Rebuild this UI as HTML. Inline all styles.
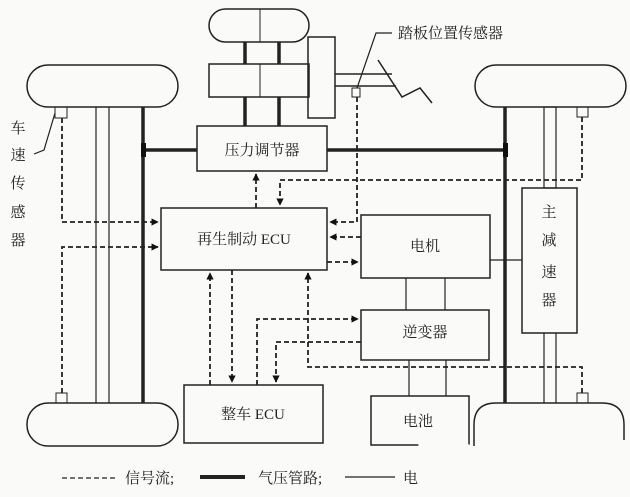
<!DOCTYPE html>
<html><head><meta charset="utf-8"><style>
html,body{margin:0;padding:0;background:#fafaf8;}
svg{display:block;}
text{font-family:"Liberation Serif","Noto Serif CJK SC","Noto Sans CJK SC",serif;fill:#222;font-size:15px;}
</style></head><body>
<svg width="630" height="497" viewBox="0 0 630 497" xmlns="http://www.w3.org/2000/svg">
<defs>
<marker id="a" viewBox="0 0 10 10" refX="9" refY="5" markerWidth="4" markerHeight="4" orient="auto"><path d="M0,0 L10,5 L0,10z" fill="#111"/></marker>
</defs>
<g fill="none" stroke="#222" stroke-width="1.5">
<!-- wheels -->
<rect x="209" y="9" width="100" height="33" rx="16.5"/>
<line x1="260" y1="9" x2="260" y2="42" stroke-width="1"/>
<rect x="27" y="65" width="151" height="42" rx="21"/>
<rect x="475" y="65" width="151" height="42" rx="21"/>
<rect x="27" y="403" width="151" height="43" rx="21"/>
<path d="M474,446 L474,425 Q474,403 496,403 L602,403 Q624,403 624,425 L624,440"/>
<!-- module -->
<rect x="209" y="64" width="100" height="33"/>
<line x1="260" y1="64" x2="260" y2="97" stroke-width="1"/>
<rect x="308" y="37" width="27" height="81"/>
<line x1="335" y1="74" x2="392" y2="74"/>
<line x1="335" y1="86" x2="396" y2="86"/>
<polyline points="378,60 402,97 420,88 432,103"/>
<polyline points="392,33 376,33 357,88" stroke-width="1.2"/>
<rect x="352" y="88" width="8" height="9" stroke-width="1"/>
<!-- thick air lines -->
<g stroke-width="3.5">
<line x1="245" y1="42" x2="245" y2="64"/><line x1="279" y1="42" x2="279" y2="64"/>
<line x1="245" y1="97" x2="245" y2="126"/><line x1="279" y1="97" x2="279" y2="126"/>
<line x1="143" y1="107" x2="143" y2="403"/>
<line x1="505" y1="107" x2="505" y2="403"/>
<line x1="143" y1="150" x2="197" y2="150"/>
<line x1="327" y1="150" x2="505" y2="150"/>
</g>
<rect x="141" y="143" width="5" height="14" fill="#111" stroke="none"/>
<rect x="503" y="143" width="5" height="14" fill="#111" stroke="none"/>
<!-- thin lines -->
<g stroke-width="1.2">
<line x1="96" y1="107" x2="96" y2="403"/><line x1="109" y1="107" x2="109" y2="403"/>
<rect x="544" y="107" width="12" height="81"/>
<line x1="544" y1="333" x2="544" y2="403"/><line x1="556" y1="333" x2="556" y2="403"/>
<line x1="406" y1="278" x2="406" y2="310"/><line x1="445" y1="278" x2="445" y2="310"/>
<line x1="409" y1="360" x2="409" y2="396"/><line x1="446" y1="360" x2="446" y2="396"/>
<line x1="490" y1="260" x2="522" y2="260"/>
</g>
<!-- sensors -->
<rect x="55" y="107" width="12" height="11" stroke-width="1"/>
<rect x="577" y="107" width="11" height="10" stroke-width="1"/>
<rect x="56" y="393" width="11" height="10" stroke-width="1"/>
<rect x="577" y="393" width="11" height="10" stroke-width="1"/>
<polyline points="55,113 44,150 34,154" stroke-width="1.2"/>
<!-- boxes -->
<rect x="197" y="126" width="130" height="45"/>
<rect x="161" y="208" width="166" height="62"/>
<rect x="361" y="215" width="129" height="63"/>
<rect x="522" y="188" width="55" height="145"/>
<rect x="361" y="310" width="128" height="50"/>
<rect x="184" y="385" width="139" height="58"/>
<rect x="371" y="396" width="98" height="49"/>
<!-- dashed signals -->
<g stroke-width="1.8" stroke-dasharray="5,3">
<polyline points="62,118 62,222 158,222" marker-end="url(#a)"/>
<polyline points="62,393 62,247 158,247" marker-end="url(#a)"/>
<polyline points="582,117 582,180 280,180 280,205" marker-end="url(#a)"/>
<line x1="256" y1="208" x2="256" y2="174" marker-end="url(#a)"/>
<polyline points="357,97 357,222 330,222" marker-end="url(#a)"/>
<line x1="361" y1="237" x2="330" y2="237" marker-end="url(#a)"/>
<line x1="327" y1="262" x2="358" y2="262" marker-end="url(#a)"/>
<line x1="210" y1="385" x2="210" y2="273" marker-end="url(#a)"/>
<line x1="232" y1="270" x2="232" y2="382" marker-end="url(#a)"/>
<polyline points="257,385 257,319 358,319" marker-end="url(#a)"/>
<polyline points="361,342 276,342 276,382" marker-end="url(#a)"/>
<polyline points="582,393 582,367 308,367 308,273" marker-end="url(#a)"/>
<line x1="62" y1="478" x2="118" y2="478" stroke-width="1.2"/>
</g>
<line x1="200" y1="477" x2="245" y2="477" stroke-width="4"/>
<line x1="345" y1="477" x2="395" y2="477" stroke-width="1.2"/>
</g>
<!-- watermark cover -->
<path d="M420,420 L480,450 L480,497 L415,497 Z" fill="#fafaf8"/>
<!-- text -->
<text x="398" y="38">踏板位置传感器</text>
<text x="262" y="155" text-anchor="middle">压力调节器</text>
<text x="244" y="244" text-anchor="middle">再生制动 ECU</text>
<text x="425" y="251" text-anchor="middle">电机</text>
<text x="425" y="337" text-anchor="middle">逆变器</text>
<text x="253" y="419" text-anchor="middle">整车 ECU</text>
<text x="403" y="426">电池</text>
<g text-anchor="middle">
<text x="549" y="217">主</text><text x="549" y="245">减</text><text x="549" y="277">速</text><text x="549" y="305">器</text>
<text x="18" y="133">车</text><text x="18" y="160">速</text><text x="18" y="188">传</text><text x="18" y="217">感</text><text x="18" y="245">器</text>
</g>
<text x="125" y="483">信号流;</text>
<text x="258" y="483">气压管路;</text>
<text x="403" y="483">电</text>
</svg>
</body></html>
